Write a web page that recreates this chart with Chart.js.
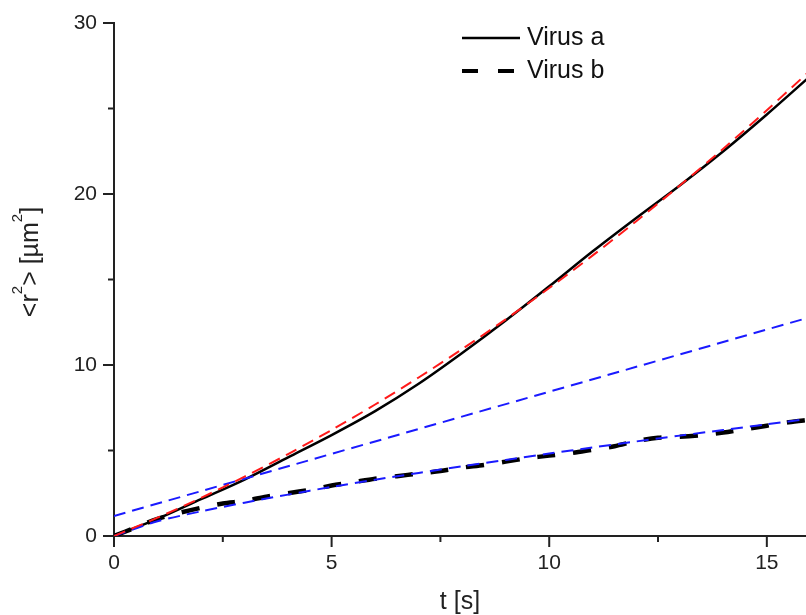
<!DOCTYPE html>
<html>
<head>
<meta charset="utf-8">
<script src="https://cdn.jsdelivr.net/npm/chart.js@4.4.1/dist/chart.umd.min.js"></script>
<style>
  html, body { margin: 0; padding: 0; background: #fff; }
</style>
</head>
<body>
<canvas id="chart" width="806" height="615"></canvas>
<script>
const tA = [0, 1, 2, 3, 4, 5, 6, 7, 8, 9, 10, 11, 12, 13, 14, 15, 16]
const virusA = [0, 1.0, 2.15, 3.3, 4.6, 5.9, 7.3, 8.9, 10.7, 12.6, 14.6, 16.65, 18.6, 20.5, 22.5, 24.65, 26.9]
const fitA = [0, 1.07, 2.23, 3.47, 4.79, 6.2, 7.69, 9.27, 10.93, 12.67, 14.5, 16.41, 18.41, 20.5, 22.65, 24.9, 27.23]

const tB = [0, 0.5, 1, 1.5, 2, 2.5, 3, 3.5, 4, 4.5, 5, 5.5, 6, 6.5, 7, 7.5, 8,
  8.5, 9, 9.5, 10, 10.5, 11, 11.5, 12, 12.5, 13, 13.5, 14, 14.5, 15, 15.5, 16]
const virusB = [0, 0.5, 1.0, 1.35, 1.65, 1.9, 2.05, 2.3, 2.5, 2.7, 2.95, 3.15, 3.35, 3.5, 3.65, 3.8, 4.0,
  4.15, 4.35, 4.55, 4.7, 4.85, 5.05, 5.25, 5.55, 5.75, 5.8, 5.9, 6.05, 6.25, 6.45, 6.65, 6.8]
const fitB = [0, 0.86, 1.44, 1.95, 2.42, 2.87, 3.29, 3.69, 4.08, 4.45, 4.82, 5.18, 5.53, 5.87, 6.2, 6.53, 6.86]

const tLine = [0, 16]
const fitLine = [1.17, 12.8]

const seriesNames = ['Virus a', 'Virus b']
const xMajor = [0, 5, 10, 15]
const xMinor = [2.5, 7.5, 12.5]
const yMajor = [0, 10, 20, 30]
const yMinor = [5, 15, 25]
// y title pieces: [text, superscript?]
const yTitle = [['<r', false], ['2', true], ['> [µm', false], ['2', true], [']', false]]

const ink = '#222'
const red = '#ff1a1a'
const blue = '#1a1aff'
const font = "'Liberation Sans', Arial, sans-serif"

const pts = (ts, vs) => ts.map((t, i) => ({ x: t, y: vs[i] }))

const marksAndLegend = {
  id: 'marksAndLegend',
  afterDraw(chart) {
    const ctx = chart.ctx
    const { x, y } = chart.scales
    const area = chart.chartArea
    ctx.save()
    ctx.strokeStyle = ink
    ctx.lineWidth = 2
    const mark = (x1, y1, x2, y2) => {
      ctx.beginPath(); ctx.moveTo(x1, y1); ctx.lineTo(x2, y2); ctx.stroke()
    }
    xMajor.forEach(v => { const px = x.getPixelForValue(v); mark(px, area.bottom, px, area.bottom + 11) })
    xMinor.forEach(v => { const px = x.getPixelForValue(v); mark(px, area.bottom, px, area.bottom + 6) })
    yMajor.forEach(v => { const py = y.getPixelForValue(v); mark(area.left - 11, py, area.left, py) })
    yMinor.forEach(v => { const py = y.getPixelForValue(v); mark(area.left - 6, py, area.left, py) })

    // y axis title with raised 2s
    ctx.fillStyle = ink
    ctx.textBaseline = 'alphabetic'
    const big = '25px ' + font, small = '15px ' + font
    let total = 0
    yTitle.forEach(([s, sup]) => { ctx.font = sup ? small : big; total += ctx.measureText(s).width })
    ctx.save()
    ctx.translate(28, 262)
    ctx.rotate(-Math.PI / 2)
    let cx = -total / 2
    yTitle.forEach(([s, sup]) => {
      ctx.font = sup ? small : big
      ctx.fillText(s, cx, sup ? -6 : 10)
      cx += ctx.measureText(s).width
    })
    ctx.restore()

    // legend
    ctx.strokeStyle = '#000'
    ctx.fillStyle = '#111'
    ctx.font = '25px ' + font
    ctx.textBaseline = 'middle'
    ctx.lineWidth = 2.5
    ctx.setLineDash([])
    mark(462, 38, 520, 38)
    ctx.fillText(seriesNames[0], 527, 38)
    ctx.lineWidth = 4
    ctx.setLineDash([16, 20])
    mark(462, 71, 520, 71)
    ctx.setLineDash([])
    ctx.fillText(seriesNames[1], 527, 71)
    ctx.restore()
  }
}

new Chart(document.getElementById('chart'), {
  type: 'scatter',
  data: {
    datasets: [
      {
        label: 'fit a',
        data: pts(tA, fitA),
        borderColor: red,
        borderWidth: 2,
        borderDash: [12, 7],
        order: 0,
      },
      {
        label: 'linear',
        data: pts(tLine, fitLine),
        borderColor: blue,
        borderWidth: 2,
        borderDash: [12, 7],
        order: 0,
      },
      {
        label: 'fit b',
        data: pts(tA, fitB),
        borderColor: blue,
        borderWidth: 2,
        borderDash: [12, 7],
        order: 0,
      },
      {
        label: seriesNames[0],
        data: pts(tA, virusA),
        borderColor: '#000',
        borderWidth: 2.5,
        order: 1,
      },
      {
        label: seriesNames[1],
        data: pts(tB, virusB),
        borderColor: '#000',
        borderWidth: 4.5,
        borderDash: [18, 18],
        order: 1,
      },
    ]
  },
  options: {
    responsive: false,
    animation: false,
    showLine: true,
    elements: {
      point: { radius: 0, hoverRadius: 0 },
      line: { tension: 0.3, fill: false },
    },
    layout: { padding: { top: 23, right: 0, left: 0, bottom: 0 } },
    plugins: {
      legend: { display: false },
      tooltip: { enabled: false },
    },
    scales: {
      x: {
        type: 'linear',
        min: 0,
        max: 15.9,
        afterBuildTicks: s => { s.ticks = xMajor.map(v => ({ value: v })) },
        afterFit: s => { s.height = 79; s.paddingLeft = 0; s.paddingRight = 0 },
        grid: { display: true, drawOnChartArea: false, drawTicks: false },
        border: { display: true, color: ink, width: 2 },
        ticks: { color: ink, padding: 15, font: { family: font, size: 21 } },
        title: {
          display: true,
          text: 't [s]',
          color: ink,
          padding: { top: 0, bottom: 0 },
          font: { family: font, size: 25, lineHeight: 1 },
        },
      },
      y: {
        type: 'linear',
        min: 0,
        max: 30,
        afterBuildTicks: s => { s.ticks = yMajor.map(v => ({ value: v })) },
        afterFit: s => { s.width = 114; s.paddingTop = 0; s.paddingBottom = 0 },
        grid: { display: true, drawOnChartArea: false, drawTicks: false },
        border: { display: true, color: ink, width: 2 },
        ticks: { color: ink, padding: 17, font: { family: font, size: 21 } },
        title: { display: false },
      },
    },
  },
  plugins: [marksAndLegend],
})
</script>
</body>
</html>
